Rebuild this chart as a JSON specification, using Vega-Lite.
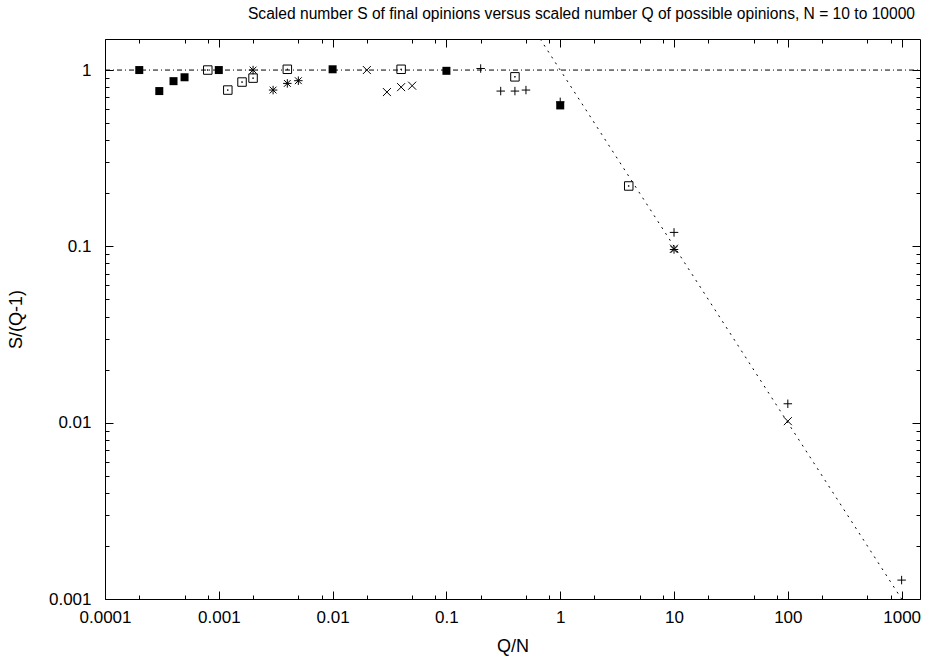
{
  "$schema": "https://vega.github.io/schema/vega-lite/v6.json",
  "width": 815,
  "height": 560,
  "autosize": {"type": "none"},
  "padding": {"left": 105, "top": 39, "right": 7, "bottom": 58},
  "background": "white",
  "config": {
    "view": {"stroke": "black", "strokeWidth": 1},
    "font": "Liberation Sans",
    "axis": {
      "grid": false, "domain": false,
      "labelFont": "Liberation Sans", "titleFont": "Liberation Sans",
      "labelColor": "black", "titleColor": "black", "tickColor": "black",
      "titleFontWeight": "normal", "labelFontSize": 17, "titleFontSize": 18,
      "labelFlush": false, "labelOverlap": false, "tickWidth": 1
    }
  },
  "title": {
    "text": "Scaled number S of final opinions versus scaled number Q of possible opinions, N = 10 to 10000",
    "anchor": "end", "dx": -7, "dy": 17, "fontSize": 15.6, "fontWeight": "normal",
    "font": "Liberation Sans", "color": "black", "baseline": "alphabetic", "offset": 19
  },
  "datasets": {
    "pts": [
      {"series": "filled", "q": 0.0002, "s": 1.0},
      {"series": "filled", "q": 0.0003, "s": 0.76},
      {"series": "filled", "q": 0.0004, "s": 0.865},
      {"series": "filled", "q": 0.0005, "s": 0.91},
      {"series": "filled", "q": 0.001, "s": 1.0},
      {"series": "filled", "q": 0.01, "s": 1.01},
      {"series": "filled", "q": 0.1, "s": 0.99},
      {"series": "filled", "q": 1, "s": 0.63},
      {"series": "open", "q": 0.0008, "s": 1.0},
      {"series": "open", "q": 0.0012, "s": 0.77},
      {"series": "open", "q": 0.0016, "s": 0.855},
      {"series": "open", "q": 0.002, "s": 0.9},
      {"series": "open", "q": 0.004, "s": 1.01},
      {"series": "open", "q": 0.04, "s": 1.01},
      {"series": "open", "q": 0.4, "s": 0.915},
      {"series": "open", "q": 4, "s": 0.22},
      {"series": "star", "q": 0.002, "s": 1.0},
      {"series": "star", "q": 0.003, "s": 0.77},
      {"series": "star", "q": 0.004, "s": 0.84},
      {"series": "star", "q": 0.005, "s": 0.87},
      {"series": "star", "q": 10, "s": 0.096},
      {"series": "x", "q": 0.02, "s": 1.0},
      {"series": "x", "q": 0.03, "s": 0.75},
      {"series": "x", "q": 0.04, "s": 0.8},
      {"series": "x", "q": 0.05, "s": 0.815},
      {"series": "x", "q": 10, "s": 0.097},
      {"series": "x", "q": 100, "s": 0.0102},
      {"series": "plus", "q": 0.2, "s": 1.02},
      {"series": "plus", "q": 0.3, "s": 0.76},
      {"series": "plus", "q": 0.4, "s": 0.76},
      {"series": "plus", "q": 0.5, "s": 0.77},
      {"series": "plus", "q": 1, "s": 0.66},
      {"series": "plus", "q": 10, "s": 0.12},
      {"series": "plus", "q": 100, "s": 0.0128},
      {"series": "plus", "q": 1000, "s": 0.00128}
    ],
    "hline": [{"q": 0.0001, "s": 1}, {"q": 1450, "s": 1}],
    "dline": [{"q": 0.6667, "s": 1.5}, {"q": 1000, "s": 0.001}]
  },
  "resolve": {"axis": {"x": "independent", "y": "independent"}},
  "layer": [
    {
      "data": {"name": "hline"},
      "mark": {"type": "line", "color": "black", "strokeWidth": 1, "strokeDash": [5, 3, 1, 3]},
      "encoding": {
        "x": {"field": "q", "type": "quantitative",
          "scale": {"type": "log", "domain": [0.0001, 1450], "nice": false},
          "axis": {"orient": "bottom", "values": [0.0001, 0.001, 0.01, 0.1, 1, 10, 100, 1000], "format": "~g", "ticks": false, "labelPadding": 10, "title": "Q/N", "titleX": 407.5, "titleY": 47, "titleBaseline": "middle"}},
        "y": {"field": "s", "type": "quantitative",
          "scale": {"type": "log", "domain": [0.001, 1.5], "nice": false},
          "axis": {"orient": "left", "values": [0.001, 0.01, 0.1, 1], "format": "~g", "ticks": false, "labelPadding": 14, "title": "S/(Q-1)", "titleX": -89, "titleY": 280, "titleBaseline": "middle", "titleAngle": 270}}
      }
    },
    {
      "data": {"name": "dline"},
      "mark": {"type": "line", "color": "black", "strokeWidth": 1, "strokeDash": [2, 5]},
      "encoding": {
        "x": {"field": "q", "type": "quantitative",
          "scale": {"type": "log", "domain": [0.0001, 1450], "nice": false},
          "axis": {"orient": "bottom", "values": [0.0001, 0.001, 0.01, 0.1, 1, 10, 100, 1000], "labels": false, "tickSize": -8, "title": null}},
        "y": {"field": "s", "type": "quantitative",
          "scale": {"type": "log", "domain": [0.001, 1.5], "nice": false},
          "axis": {"orient": "left", "values": [0.001, 0.01, 0.1, 1], "labels": false, "tickSize": -8, "title": null}}
      }
    },
    {
      "data": {"name": "pts"},
      "transform": [{"filter": "datum.series == 'filled'"}],
      "mark": {"type": "point", "shape": "square", "filled": true, "color": "black", "size": 64, "opacity": 1},
      "encoding": {
        "x": {"field": "q", "type": "quantitative",
          "scale": {"type": "log", "domain": [0.0001, 1450], "nice": false},
          "axis": {"orient": "bottom", "values": [0.0002, 0.0005, 0.0008, 0.002, 0.005, 0.008, 0.02, 0.05, 0.08, 0.2, 0.5, 0.8, 2, 5, 8, 20, 50, 80, 200, 500, 800], "labels": false, "tickSize": -4, "title": null}},
        "y": {"field": "s", "type": "quantitative",
          "scale": {"type": "log", "domain": [0.001, 1.5], "nice": false},
          "axis": {"orient": "left", "values": [0.002, 0.003, 0.004, 0.005, 0.006, 0.007, 0.008, 0.009, 0.02, 0.03, 0.04, 0.05, 0.06, 0.07, 0.08, 0.09, 0.2, 0.3, 0.4, 0.5, 0.6, 0.7, 0.8, 0.9], "labels": false, "tickSize": -4, "title": null}}
      }
    },
    {
      "data": {"name": "pts"},
      "transform": [{"filter": "datum.series == 'open'"}],
      "mark": {"type": "point", "shape": "M-1,-1H1V1H-1Z M-0.08,-0.08H0.08V0.08H-0.08Z", "filled": false, "stroke": "black", "strokeWidth": 1, "size": 72, "opacity": 1},
      "encoding": {
        "x": {"field": "q", "type": "quantitative",
          "scale": {"type": "log", "domain": [0.0001, 1450], "nice": false},
          "axis": {"orient": "top", "values": [0.0001, 0.001, 0.01, 0.1, 1, 10, 100, 1000], "labels": false, "tickSize": -8, "title": null}},
        "y": {"field": "s", "type": "quantitative",
          "scale": {"type": "log", "domain": [0.001, 1.5], "nice": false},
          "axis": {"orient": "right", "values": [0.001, 0.01, 0.1, 1], "labels": false, "tickSize": -8, "title": null}}
      }
    },
    {
      "data": {"name": "pts"},
      "transform": [{"filter": "datum.series == 'star'"}],
      "mark": {"type": "point", "shape": "M-1,0H1M0,-1V1M-0.8,-0.8L0.8,0.8M-0.8,0.8L0.8,-0.8", "filled": false, "stroke": "black", "strokeWidth": 1, "size": 72, "opacity": 1},
      "encoding": {
        "x": {"field": "q", "type": "quantitative",
          "scale": {"type": "log", "domain": [0.0001, 1450], "nice": false},
          "axis": {"orient": "top", "values": [0.0002, 0.0005, 0.0008, 0.002, 0.005, 0.008, 0.02, 0.05, 0.08, 0.2, 0.5, 0.8, 2, 5, 8, 20, 50, 80, 200, 500, 800], "labels": false, "tickSize": -4, "title": null}},
        "y": {"field": "s", "type": "quantitative",
          "scale": {"type": "log", "domain": [0.001, 1.5], "nice": false},
          "axis": {"orient": "right", "values": [0.002, 0.003, 0.004, 0.005, 0.006, 0.007, 0.008, 0.009, 0.02, 0.03, 0.04, 0.05, 0.06, 0.07, 0.08, 0.09, 0.2, 0.3, 0.4, 0.5, 0.6, 0.7, 0.8, 0.9], "labels": false, "tickSize": -4, "title": null}}
      }
    },
    {
      "data": {"name": "pts"},
      "transform": [{"filter": "datum.series == 'x'"}],
      "mark": {"type": "point", "shape": "M-1,-1L1,1M-1,1L1,-1", "filled": false, "stroke": "black", "strokeWidth": 1, "size": 64, "opacity": 1},
      "encoding": {
        "x": {"field": "q", "type": "quantitative",
          "scale": {"type": "log", "domain": [0.0001, 1450], "nice": false}, "axis": null},
        "y": {"field": "s", "type": "quantitative",
          "scale": {"type": "log", "domain": [0.001, 1.5], "nice": false}, "axis": null}
      }
    },
    {
      "data": {"name": "pts"},
      "transform": [{"filter": "datum.series == 'plus'"}],
      "mark": {"type": "point", "shape": "M-1,0H1M0,-1V1", "filled": false, "stroke": "black", "strokeWidth": 1, "size": 72, "opacity": 1},
      "encoding": {
        "x": {"field": "q", "type": "quantitative",
          "scale": {"type": "log", "domain": [0.0001, 1450], "nice": false}, "axis": null},
        "y": {"field": "s", "type": "quantitative",
          "scale": {"type": "log", "domain": [0.001, 1.5], "nice": false}, "axis": null}
      }
    }
  ]
}
